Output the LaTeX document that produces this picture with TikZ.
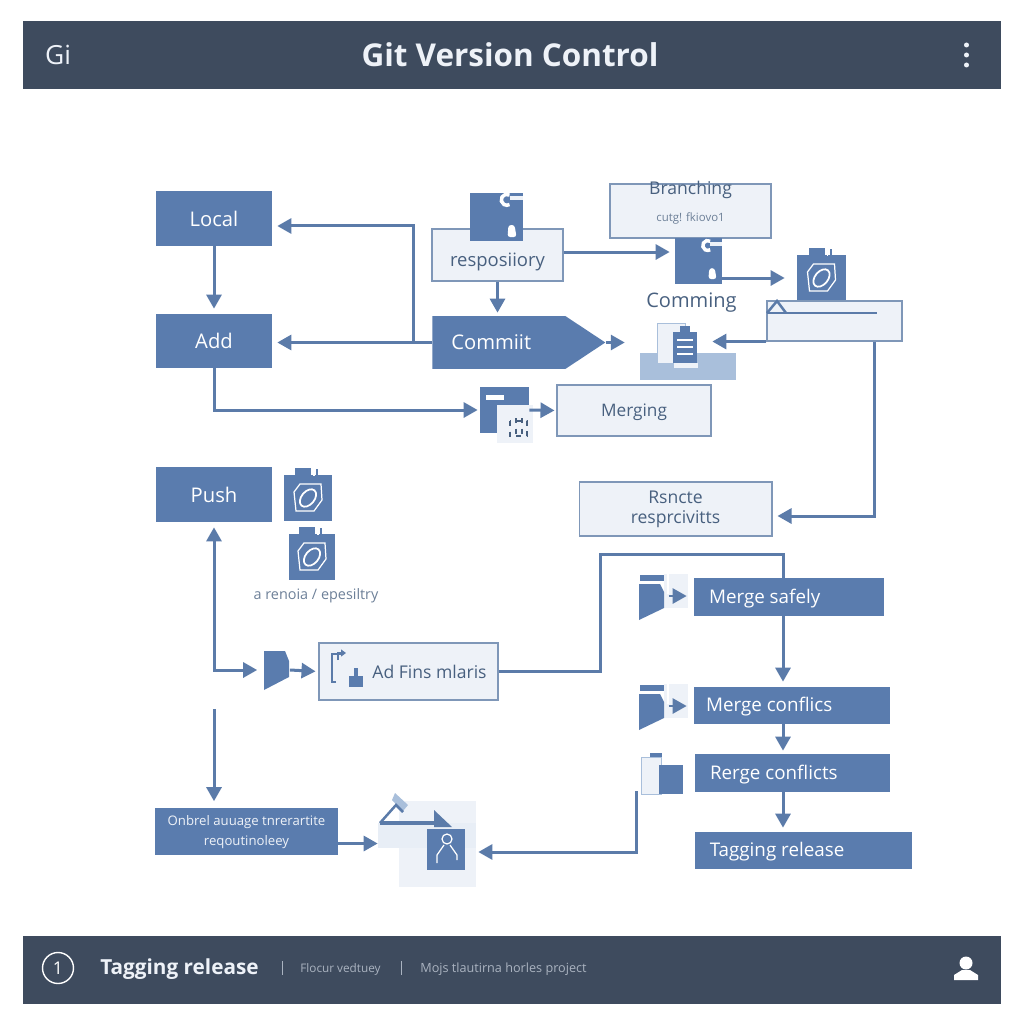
\documentclass[tikz,border=0pt]{standalone}
\usepackage{xcolor}
\usepackage{fontspec}
\setmainfont{Open Sans}
\usetikzlibrary{arrows.meta,calc,shapes.symbols}
\definecolor{barslate}{HTML}{3E4B5E}
\definecolor{gitblue}{HTML}{5A7CAE}
\definecolor{linkblue}{HTML}{5B7BA9}
\definecolor{palefill}{HTML}{EEF2F8}
\definecolor{paleline}{HTML}{7F97B8}
\definecolor{softblue}{HTML}{A9BFDB}
\definecolor{inktext}{HTML}{48607F}
\definecolor{fadetext}{HTML}{AAB3C0}

\begin{document}
\begin{tikzpicture}[
  x=0.02cm, y=-0.02cm,
  bar/.style={fill=barslate, minimum width=19.56cm, minimum height=1.36cm, inner sep=0pt},
  bluebox/.style={fill=gitblue, text=white, inner sep=0pt, font=\fontsize{11.5}{14}\selectfont},
  rowbox/.style={bluebox, text height=1.6ex, text depth=0.3ex, font=\fontsize{10.7}{14}\selectfont},
  palebox/.style={fill=palefill, draw=paleline, line width=0.6pt, text=inktext, inner sep=0pt, align=center, font=\fontsize{10}{12}\selectfont},
  iconbox/.style={fill=gitblue, inner sep=0pt},
  spot/.style={minimum width=0.5cm, minimum height=0.78cm, inner sep=0pt},
  flow/.style={-{Triangle[length=0.28cm,width=0.3cm]}, draw=linkblue, line width=0.06cm, shorten >=0.1cm},
  link/.style={draw=linkblue, line width=0.06cm},
  keyicon/.pic={
    \draw[white, line width=0.07cm] (13,-22) arc[start angle=60, end angle=300, radius=0.11cm];
    \fill[palefill] (13,-21) rectangle (26,-17);
    \fill[white, rounded corners=1.5pt] (12,8) -- (18,8) -- (20,20) -- (11,20) -- cycle;
  },
  ringicon/.pic={
    \fill[gitblue] (-13,-30) rectangle (3,-22);
    \fill[white] (5,-30) rectangle (6.5,-22);
    \fill[gitblue] (8,-29) rectangle (10,-22);
    \draw[white, line width=0.7pt] (-14,-6) -- (-8,-14) -- (13,-14) -- (14,2) -- (6,13) -- (-12,13) -- cycle;
    \draw[white, line width=1pt] (0,0) ellipse[x radius=0.2cm, y radius=0.13cm, rotate=50];
  },
  folderglyph/.pic={
    \fill[gitblue] (-13,-19) -- (8,-19) -- (12,-9) -- (12,7) -- (-13,20) -- cycle;
  },
  tabbedfolder/.pic={
    \fill[palefill] (12,-26) rectangle (36,8);
    \fill[gitblue] (-12,-25) rectangle (12,-19);
    \fill[gitblue] (-13,-16) -- (8,-16) -- (12,-8) -- (12,8) -- (-13,20) -- cycle;
    \fill[white] (15,-26) rectangle (17,-6);
  },
]
\useasboundingbox (0,0) rectangle (1024,1024);

\node[bar] (header) at (512,55) {};
\node[text=palefill, font=\fontsize{15}{18}\selectfont] (gi) at (58,55) {Gi};
\node[text=palefill, font=\fontsize{17.9}{21}\selectfont\bfseries] (title) at (510,55) {Git Version Control};
\fill[palefill] (966.5,45) circle[radius=0.05cm] (966.5,55) circle[radius=0.05cm] (966.5,65) circle[radius=0.05cm];

\node[bar] (footer) at (512,969.5) {};
\node[draw=white, line width=0.8pt, circle, minimum size=0.62cm, inner sep=0pt, text=white, font=\fontsize{10}{12}\selectfont] (infomark) at (58,968) {1};
\node[text=palefill, anchor=west, inner sep=0pt, font=\fontsize{11.8}{14}\selectfont\bfseries] (tagline) at (100,969.5) {Tagging release};
\draw[fadetext, line width=0.4pt] (282,961) -- (282,975) (401,961) -- (401,975);
\node[text=fadetext, anchor=west, inner sep=0pt, font=\fontsize{6.7}{8}\selectfont] (floor) at (300,969) {Flocur vedtuey};
\node[text=fadetext, anchor=west, inner sep=0pt, font=\fontsize{7.2}{8}\selectfont] (mojs) at (420,969) {Mojs tlautirna horles project};
\fill[white] (966,963) circle[radius=0.13cm];
\fill[white] (954,980) -- (954,975) -- (962,970) -- (970,970) -- (978,975) -- (978,980) -- cycle;

\node[bluebox, minimum width=2.32cm, minimum height=1.1cm] (local) at (214,218.5) {Local};
\node[bluebox, minimum width=2.32cm, minimum height=1.08cm] (add) at (214,341) {Add};
\node[bluebox, minimum width=2.32cm, minimum height=1.1cm] (push) at (214,494.5) {Push};

\node[palebox, font=\fontsize{10.5}{13}\selectfont, minimum width=2.62cm, minimum height=1.04cm] (repo) at (497.5,255) {\smash{\raisebox{-6.5pt}{resposiiory}}};
\node[iconbox, minimum width=1.06cm, minimum height=0.96cm] (keyone) at (496.5,217) {};
\pic at (keyone) {keyicon};
\node[palebox, minimum width=3.22cm, minimum height=1.08cm] (branching) at (690.5,211) {\smash{\raisebox{2pt}{\fontsize{10}{12}\selectfont Branching}}\\[1pt]{\color{inktext!80}\fontsize{6.5}{8}\selectfont cutg! fkiovo1}};
\node[iconbox, minimum width=0.94cm, minimum height=0.92cm] (keytwo) at (698.5,261) {};
\pic[scale=0.9] at (keytwo) {keyicon};
\node[text=inktext, inner sep=0pt, font=\fontsize{11.4}{13}\selectfont] (comming) at (691.5,303) {Comming};

\node[iconbox, minimum width=0.98cm, minimum height=0.92cm] (ringone) at (821.5,278) {};
\pic at (ringone) {ringicon};
\node[palebox, minimum width=2.7cm, minimum height=0.8cm] (panel) at (834.5,321) {};
\draw[linkblue, line width=0.05cm] (767,313) -- (877,313);
\draw[linkblue, line width=0.05cm] (767,313) -- (777,301) -- (786,313);

\node[bluebox, signal, signal to=east, signal pointer angle=67, minimum width=3.46cm, minimum height=1.06cm, anchor=west] (commit) at (432,342.5) {\makebox[2.5cm][l]{\hspace{0.3cm}Commiit}};

\node[fill=softblue, minimum width=1.92cm, minimum height=0.54cm, inner sep=0pt] (docsbase) at (688,366.5) {};
\node[fill=palefill, draw=softblue, line width=0.3pt, minimum width=0.56cm, minimum height=0.8cm, inner sep=0pt] (docs) at (671,343) {};
\node[iconbox, minimum width=0.48cm, minimum height=0.62cm] (docfront) at (685,347) {};
\fill[gitblue] (680,326) rectangle (690,334);
\draw[white, line width=0.05cm] (677,340) -- (693,340) (677,347) -- (693,347) (677,354) -- (693,354);
\fill[palefill] (674,363) rectangle (698,368);

\node[iconbox, minimum width=0.98cm, minimum height=0.92cm] (mergeicon) at (504.5,410) {};
\fill[white] (486,395) rectangle (504,400);
\fill[palefill] (497,405) rectangle (533,443);
\draw[inktext, line width=0.6pt, dashed] (510,421) rectangle (527,436) (516,418) -- (516,438) (522,418) -- (522,438);
\node[palebox, font=\fontsize{9.8}{12}\selectfont, minimum width=3.08cm, minimum height=1.02cm] (merging) at (634,410.5) {\smash{\raisebox{-3.2pt}{Merging}}};

\node[palebox, minimum width=3.86cm, minimum height=1.08cm] (remote) at (675.5,509) {Rsncte\\[-0.5pt]resprcivitts};

\node[iconbox, minimum width=0.96cm, minimum height=0.92cm] (ringtwo) at (308,498) {};
\pic at (ringtwo) {ringicon};
\node[iconbox, minimum width=0.92cm, minimum height=0.92cm] (ringthree) at (312,557) {};
\pic at (ringthree) {ringicon};
\node[text=inktext!80, inner sep=0pt, font=\fontsize{8.2}{10}\selectfont] (renoia) at (316,596) {a renoia / epesiltry};

\node[spot] (folderone) at (277,670) {};
\pic at (folderone) {folderglyph};
\node[palebox, minimum width=3.58cm, minimum height=1.14cm] (adfins) at (408.5,671.5) {};
\node[text=inktext, inner sep=0pt, font=\fontsize{10}{12}\selectfont] (adtext) at (429.5,672) {Ad Fins mlaris};
\draw[linkblue, line width=0.6pt] (336,682) -- (332,682) -- (332,654) -- (341,654);
\draw[-{Triangle[length=0.1cm,width=0.14cm]}, linkblue, line width=0.6pt] (338,660) -- (338,653) -- (346,653);
\fill[gitblue] (349,676) rectangle (363,687);
\fill[gitblue] (354,668) rectangle (358,676);

\node[rowbox, minimum width=3.8cm, minimum height=0.76cm] (safely) at (789,597) {\makebox[3.4cm][l]{\hspace{0.1cm}Merge safely}};
\node[rowbox, minimum width=3.92cm, minimum height=0.74cm] (conflicts) at (792,705.5) {\makebox[3.5cm][l]{\hspace{0.03cm}Merge conflics}};
\node[rowbox, minimum width=3.9cm, minimum height=0.76cm] (rerge) at (792.5,773) {\makebox[3.5cm][l]{\hspace{0.1cm}Rerge conflicts}};
\node[rowbox, minimum width=4.34cm, minimum height=0.74cm] (tagging) at (803.5,850.5) {\makebox[3.75cm][l]{Tagging release}};

\node[spot, minimum height=0.9cm] (safelyicon) at (652,600) {};
\pic at (safelyicon) {tabbedfolder};
\node[spot, minimum height=0.9cm] (conflictsicon) at (652,710) {};
\pic at (conflictsicon) {tabbedfolder};
\fill[gitblue] (650,753) rectangle (662,758);
\node[fill=palefill, draw=softblue, line width=0.3pt, minimum width=0.4cm, minimum height=0.74cm, inner sep=0pt] (rergeicon) at (651,775.5) {};
\node[iconbox, minimum width=0.48cm, minimum height=0.58cm] (rergefront) at (671,779.5) {};

\node[bluebox, minimum width=3.66cm, minimum height=0.9cm, align=center, text=palefill, font=\fontsize{7.5}{11.5}\selectfont] (onbrel) at (246.5,832) {Onbrel auuage tnrerartite\\reqoutinoleey};
\path[fill=gitblue] (155,808) rectangle (338,814);

\node[fill=palefill, minimum width=1.54cm, minimum height=1.72cm, inner sep=0pt] (clusterback) at (437.5,844) {};
\node[fill=palefill!70!softblue!60!white, minimum width=1.96cm, minimum height=0.5cm, inner sep=0pt] (folder) at (427,835.5) {};
\fill[softblue] (395,793) -- (408,805) -- (403,811) -- (392,800) -- cycle;
\draw[linkblue, line width=0.05cm] (380,823) -- (396,805) -- (403,812);
\fill[linkblue] (380,821) rectangle (436,825);
\fill[linkblue] (434,810) -- (452,827) -- (434,827) -- cycle;
\node[iconbox, minimum width=0.76cm, minimum height=0.82cm] (person) at (446,849.5) {};
\draw[white, line width=0.7pt] (447,839) circle[radius=0.1cm];
\draw[white, line width=0.7pt] (437,863) -- (437,855) -- (444,845) (450,845) -- (457,855) -- (457,860);

\draw[flow] (local.south) -- (add.north);
\draw[flow] (commit.west) -- (commit.west -| add.east);
\coordinate (junction) at (413,343);
\draw[flow] (junction) |- ([yshift=-0.15cm]local.east);
\draw[flow, shorten >=0.04cm] (add.south) |- (mergeicon.west);
\draw[flow, shorten >=0.04cm] (mergeicon.east) -- (merging.west);
\draw[flow, shorten >=0.1cm] ([yshift=0.06cm]repo.east) -- ([yshift=0.06cm]repo.east -| keytwo.west);
\draw[flow, shorten >=0.06cm] (repo.south) -- (repo.south |- commit.north);
\draw[flow, shorten >=0.24cm] (keytwo.east |- ringone.west) -- (ringone.west);
\draw[flow, shorten >=0.64cm] (commit.east) -- (commit.east -| docs.west);
\draw[flow, shorten >=0.3cm] (panel.south west) -- (panel.south west -| docfront.east);
\draw[flow] ([xshift=0.79cm]panel.south) |- ([yshift=-0.14cm]remote.east);
\draw[flow, {Triangle[length=0.28cm,width=0.3cm]}-{Triangle[length=0.28cm,width=0.3cm]}, shorten <=0.1cm, shorten >=0.14cm] (push.south) |- (folderone.west);
\draw[flow, shorten >=0.06cm] (folderone.east) -- (adfins.west);
\coordinate (spine) at (783,554);
\coordinate (riser) at (600,554);
\draw[link] (adfins.east) -| (riser) -- (spine) -- (spine |- safely.north);
\draw[flow] (spine |- safely.south) -- (spine |- conflicts.north);
\draw[flow, shorten >=0.06cm] (spine |- conflicts.south) -- (spine |- rerge.north);
\draw[flow, shorten >=0.08cm] (spine |- rerge.south) -- (spine |- tagging.north);
\draw[flow, line width=0.05cm, shorten <=0.08cm, shorten >=0.14cm] (safelyicon.east |- 0,596) -- (safely.west |- 0,596);
\draw[flow, line width=0.05cm, shorten <=0.08cm, shorten >=0.14cm] (conflictsicon.east |- 0,706) -- (conflicts.west |- 0,706);
\coordinate (lowstart) at (214,709);
\draw[flow, shorten >=0.16cm] (lowstart) -- (lowstart |- onbrel.north);
\draw[flow, shorten >=0cm] ([yshift=-0.23cm]onbrel.east) -- ([yshift=-0.23cm]onbrel.east -| folder.west);
\coordinate (returnstart) at (636,791);
\draw[flow, shorten >=0.04cm] (returnstart) |- ([yshift=-0.16cm]clusterback.east);
\end{tikzpicture}
\end{document}
